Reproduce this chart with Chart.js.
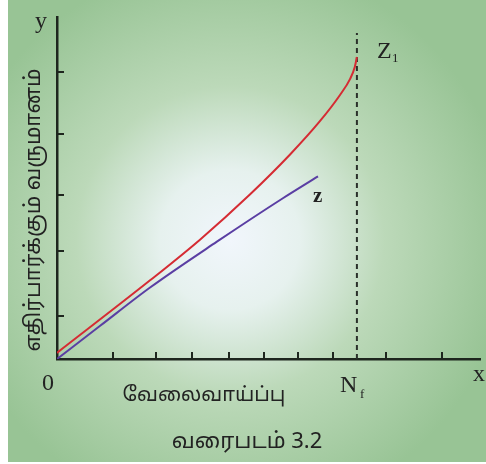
<!DOCTYPE html>
<html>
<head>
<meta charset="utf-8">
<script src="https://cdn.jsdelivr.net/npm/chart.js@4.4.1/dist/chart.umd.min.js"></script>
<style>
  html, body { margin: 0; padding: 0; background: #fff; }
  #wrap { width: 486px; height: 464px; }
</style>
</head>
<body>
<div id="wrap"><canvas id="chart"></canvas></div>
<script>
// expected income curves (arbitrary units, axis 0..100)
const redX = [0, 22.0, 33.8, 45.6, 55.1, 62.2, 66.9, 69.3, 70.4, 70.9];
const redY = [1.8, 23.0, 34.9, 48.1, 59.8, 69.6, 77.2, 81.9, 85.4, 88.3];
const purpleX = [0, 10.2, 22.0, 37.8, 53.4, 61.7];
const purpleY = [0, 9.7, 20.9, 34.3, 47.0, 53.4];
const nf = 70.9;
const nfTop = 95.3;
const xTickValues = [13.2, 23.4, 31.9, 40.7, 48.9, 57.0, 65.2, 77.8, 91.0];
const yTickValues = [12.6, 31.6, 48.0, 65.8, 83.9];

const tamilFont = "'Noto Sans Tamil', 'Lohit Tamil', 'Noto Sans', sans-serif";
const latinFont = "'Liberation Serif', 'DejaVu Serif', serif";

function toPoints(xs, ys) {
  return xs.map((v, i) => ({ x: v, y: ys[i] }));
}

// green panel with light centre + inward tick marks + labels
const figureParts = {
  id: 'figureParts',
  beforeDraw(chart) {
    const ctx = chart.ctx;
    ctx.save();
    ctx.fillStyle = '#ffffff';
    ctx.fillRect(0, 0, chart.width, chart.height);
    const g = ctx.createRadialGradient(230, 240, 0, 230, 240, 280);
    g.addColorStop(0, '#f1f6fc');
    g.addColorStop(0.25, '#e6f1ee');
    g.addColorStop(0.55, '#bcd9b9');
    g.addColorStop(1, '#98c495');
    ctx.fillStyle = g;
    ctx.fillRect(8, 0, chart.width - 8, 462);
    ctx.restore();
  },
  afterDraw(chart) {
    const { ctx, scales: { x, y } } = chart;
    const x0 = x.getPixelForValue(0);
    const y0 = y.getPixelForValue(0);
    ctx.save();
    ctx.strokeStyle = '#1e261e';
    ctx.lineWidth = 2;
    xTickValues.forEach(v => {
      const px = Math.round(x.getPixelForValue(v));
      ctx.beginPath();
      ctx.moveTo(px, y0);
      ctx.lineTo(px, y0 - 7);
      ctx.stroke();
    });
    yTickValues.forEach(v => {
      const py = Math.round(y.getPixelForValue(v));
      ctx.beginPath();
      ctx.moveTo(x0, py);
      ctx.lineTo(x0 + 7, py);
      ctx.stroke();
    });

    ctx.fillStyle = '#222';
    ctx.textBaseline = 'alphabetic';
    ctx.textAlign = 'center';
    ctx.font = '24px ' + latinFont;
    ctx.fillText('y', x0 - 16, 28);
    ctx.fillText('0', x0 - 9, 390);
    ctx.fillText('x', x.right - 1, 381);
    ctx.textAlign = 'left';
    ctx.fillText('N', x.getPixelForValue(nf) - 17, 392);
    ctx.fillText('Z', x.getPixelForValue(redX[redX.length - 1]) + 20, 58);
    ctx.font = '13px ' + latinFont;
    ctx.fillText('f', x.getPixelForValue(nf) + 3, 398);
    ctx.fillText('1', x.getPixelForValue(redX[redX.length - 1]) + 35, 62);
    ctx.font = 'bold 21px ' + latinFont;
    ctx.fillText('z', x.getPixelForValue(purpleX[purpleX.length - 1]) - 5, 202);

    ctx.textAlign = 'center';
    ctx.textBaseline = 'middle';
    ctx.font = '20px ' + tamilFont;
    ctx.fillText('வேலைவாய்ப்பு', 204, 397);
    ctx.font = '22px ' + tamilFont;
    ctx.fillText('வரைபடம் 3.2', 247, 444);
    ctx.translate(36, 210);
    ctx.rotate(-Math.PI / 2);
    ctx.font = '21.5px ' + tamilFont;
    ctx.fillText('எதிர்பார்க்கும் வருமானம்', 0, 0);
    ctx.restore();
  }
};

new Chart(document.getElementById('chart'), {
  type: 'line',
  data: {
    datasets: [
      {
        label: 'Z1',
        data: toPoints(redX, redY),
        borderColor: '#d52b33',
        borderWidth: 2,
        pointRadius: 0,
        cubicInterpolationMode: 'monotone'
      },
      {
        label: 'Z',
        data: toPoints(purpleX, purpleY),
        borderColor: '#5a3ea3',
        borderWidth: 2,
        pointRadius: 0,
        cubicInterpolationMode: 'monotone'
      },
      {
        label: 'Nf',
        data: [{ x: nf, y: 0 }, { x: nf, y: nfTop }],
        borderColor: '#2a302a',
        borderWidth: 2,
        borderDash: [5, 4],
        pointRadius: 0
      }
    ]
  },
  plugins: [figureParts],
  options: {
    responsive: true,
    maintainAspectRatio: false,
    animation: false,
    layout: { padding: { left: 57, right: 6, top: 17, bottom: 105 } },
    plugins: {
      legend: { display: false },
      tooltip: { enabled: false }
    },
    scales: {
      x: {
        type: 'linear',
        min: 0,
        max: 100,
        ticks: { display: false },
        grid: { display: false, drawTicks: false },
        border: { display: true, color: '#1e261e', width: 2.5 }
      },
      y: {
        min: 0,
        max: 100,
        ticks: { display: false },
        grid: { display: false, drawTicks: false },
        border: { display: true, color: '#1e261e', width: 2.5 }
      }
    }
  }
});
</script>
</body>
</html>
